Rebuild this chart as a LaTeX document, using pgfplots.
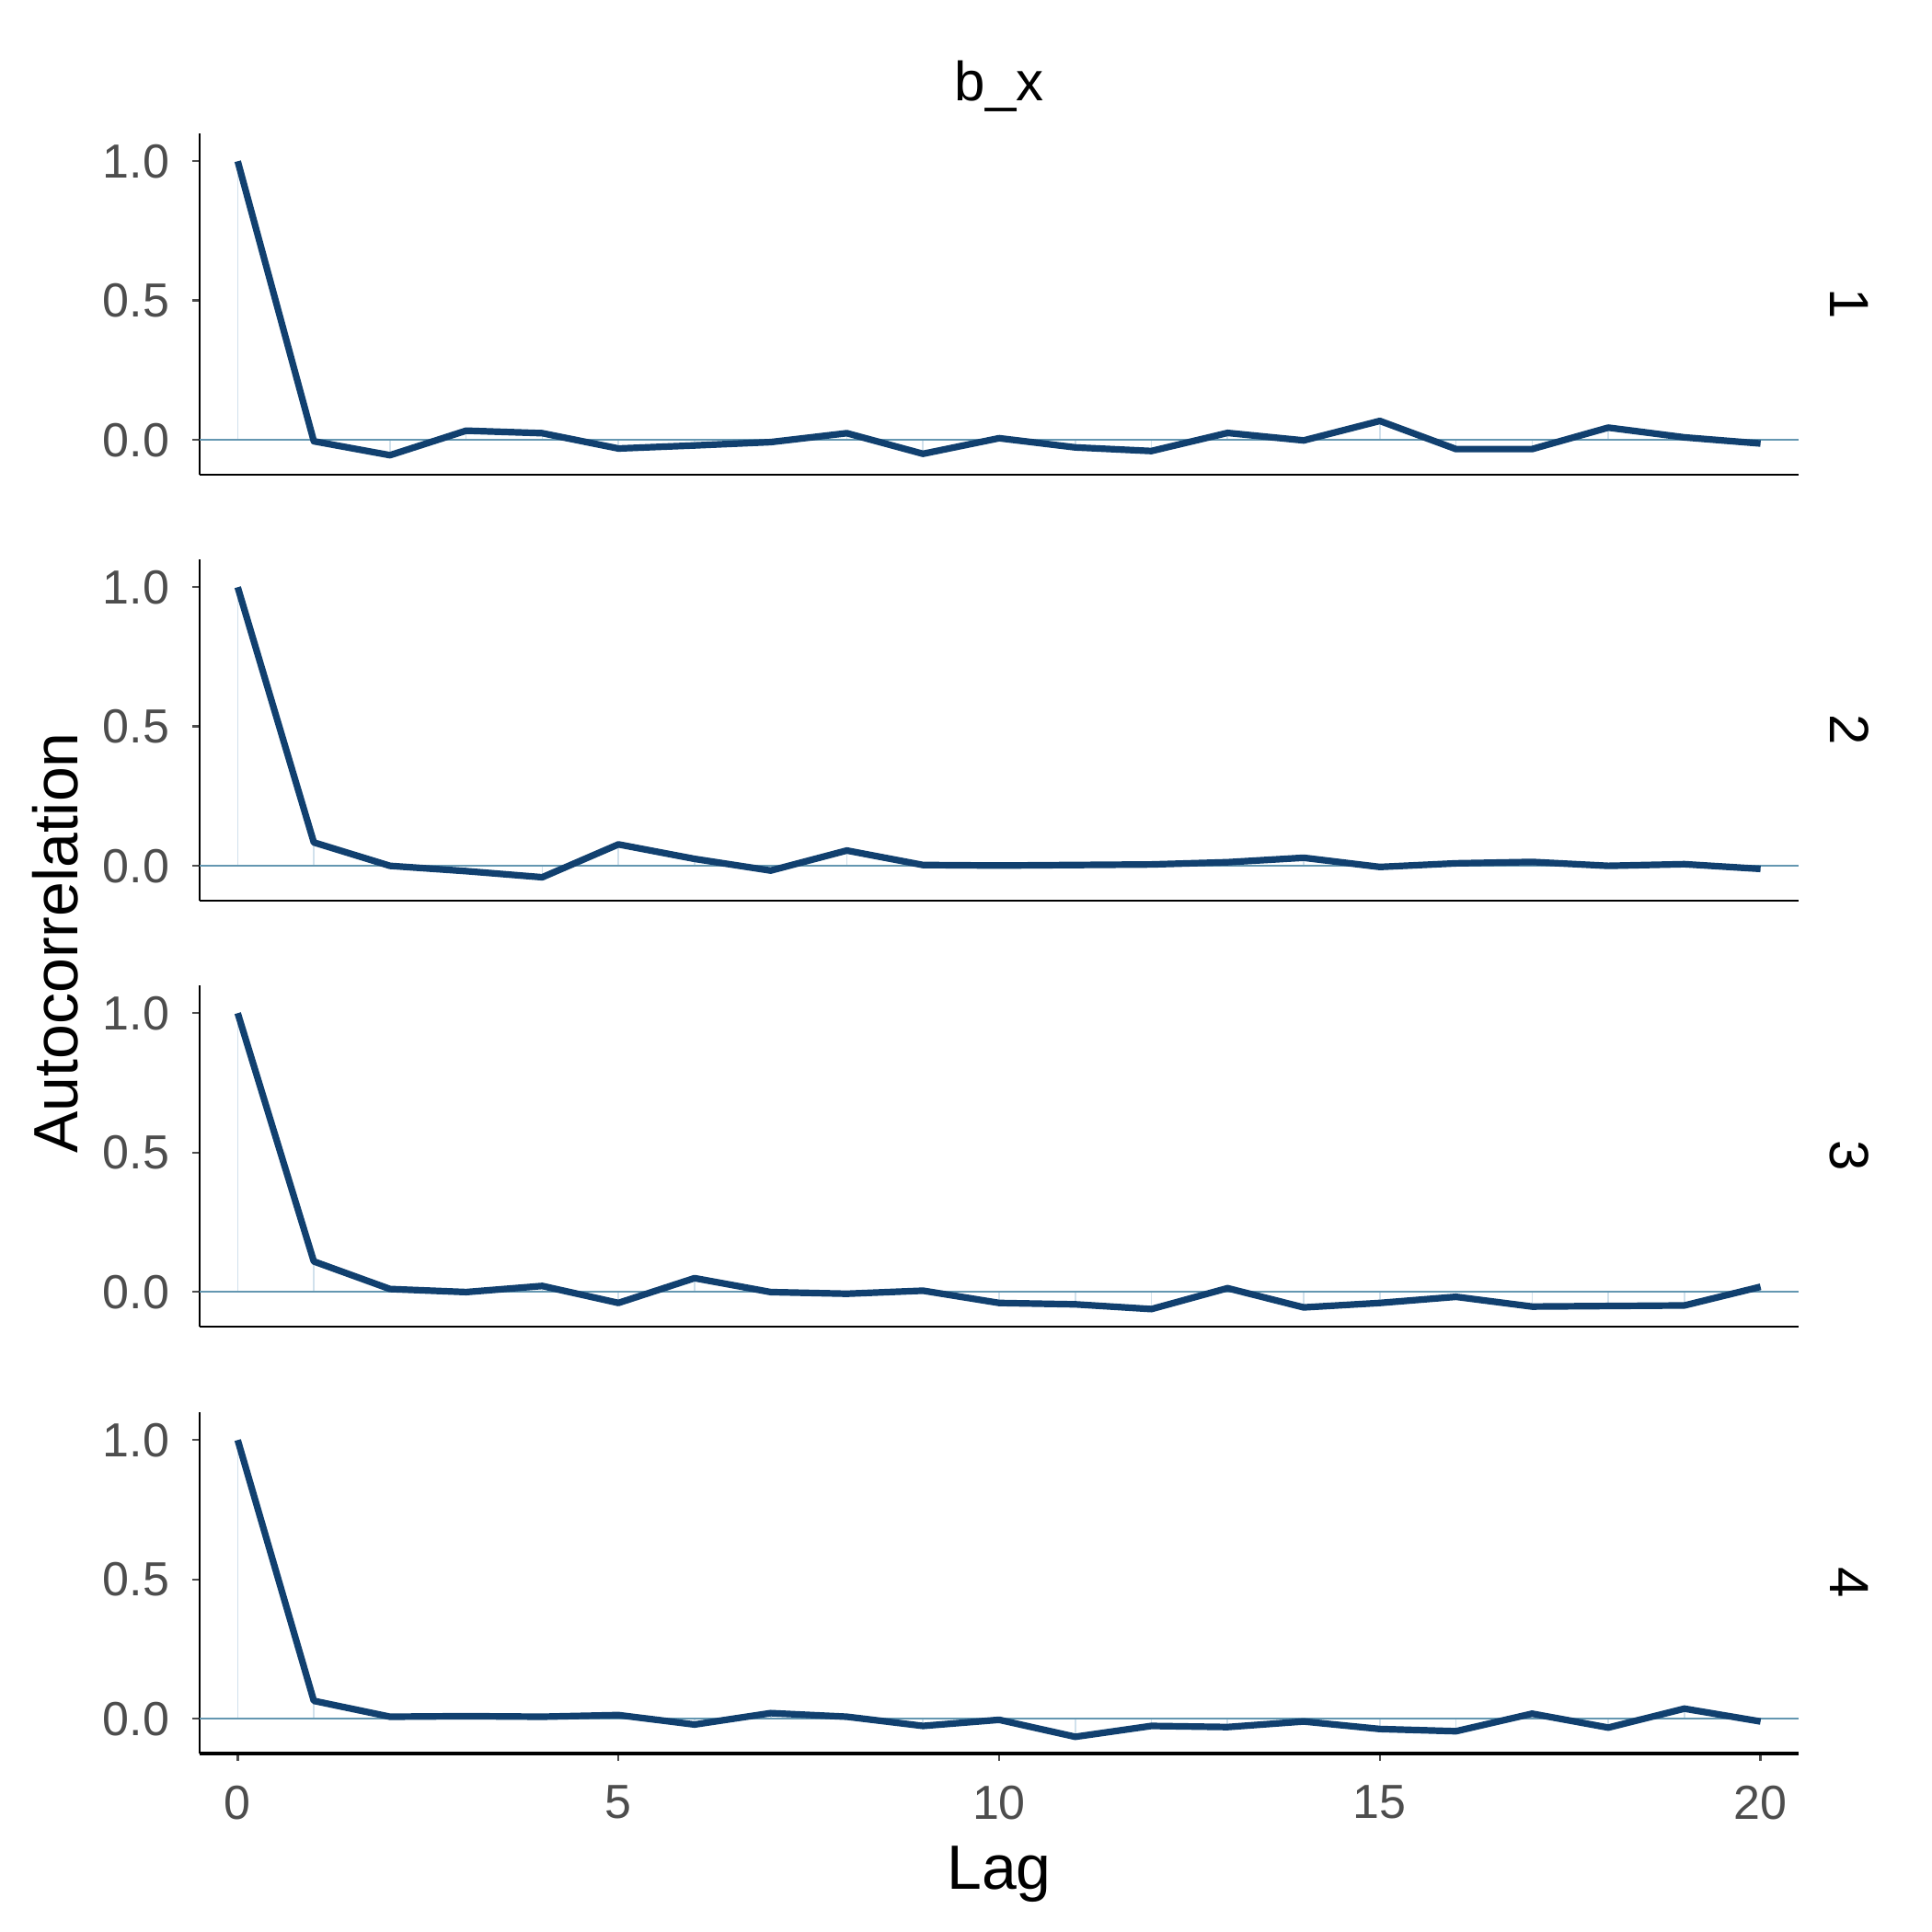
\documentclass[border=0pt]{standalone}
\usepackage{fontspec}
\setmainfont{Liberation Sans}
\usepackage{pgfplots}
\usepackage{pgfplotstable}
\pgfplotsset{compat=1.18}
\definecolor{acfdark}{RGB}{17,64,111}
\definecolor{acflight}{RGB}{209,225,236}
\definecolor{acfmid}{RGB}{100,151,177}
\definecolor{tickgray}{RGB}{77,77,77}

% autocorrelation by lag, one column per chain
\pgfplotstableread{
lag c1 c2 c3 c4
0 1.000 1.000 1.000 1.000
1 -0.005 0.084 0.109 0.064
2 -0.055 0.000 0.010 0.007
3 0.033 -0.019 -0.001 0.009
4 0.024 -0.041 0.021 0.007
5 -0.031 0.077 -0.040 0.013
6 -0.020 0.025 0.049 -0.021
7 -0.008 -0.017 -0.001 0.020
8 0.024 0.055 -0.007 0.007
9 -0.050 0.003 0.004 -0.026
10 0.006 0.001 -0.040 -0.004
11 -0.027 0.003 -0.045 -0.065
12 -0.040 0.005 -0.062 -0.026
13 0.025 0.013 0.013 -0.030
14 -0.002 0.029 -0.056 -0.010
15 0.068 -0.004 -0.040 -0.037
16 -0.033 0.009 -0.018 -0.045
17 -0.033 0.014 -0.053 0.018
18 0.044 0.000 -0.051 -0.032
19 0.009 0.006 -0.049 0.036
20 -0.013 -0.011 0.018 -0.010
}\acfdata

\pgfplotsset{acfpanel/.style={
  width=434.5pt, height=92.75pt, scale only axis,
  anchor=south west,
  xmin=-0.5, xmax=20.5, ymin=-0.125, ymax=1.1,
  axis x line*=bottom, axis y line*=left,
  axis line style={line width=0.6pt, -},
  ytick={0,0.5,1}, yticklabels={0.0,0.5,1.0},
  tick align=outside, major tick length=2pt,
  tick style={tickgray, line width=0.6pt},
  ticklabel style={font=\fontsize{13}{13}\selectfont, text=tickgray},
  yticklabel style={xshift=-2.7pt},
  xticklabel style={yshift=-3.2pt},
  /pgf/number format/assume math mode=true,
}}

\newcommand{\acfpanel}[3]{%
  \begin{axis}[acfpanel, at={(54.25pt,#2)}, #3]
    \addplot[ycomb, acflight, line width=0.4pt, no marks] table[x=lag, y=#1] {\acfdata};
    \addplot[acfmid, line width=0.6pt, no marks] coordinates {(-0.5,0) (20.5,0)};
    \addplot[acfdark, line width=1.8pt, no marks, line join=round] table[x=lag, y=#1] {\acfdata};
  \end{axis}}

\begin{document}
\begin{tikzpicture}
\useasboundingbox (0,0) rectangle (525pt,525pt);
\acfpanel{c1}{396pt}{xtick=\empty}
\acfpanel{c2}{280.25pt}{xtick=\empty}
\acfpanel{c3}{164.5pt}{xtick=\empty}
\acfpanel{c4}{48.5pt}{xtick={0,5,10,15,20}, x axis line style={line width=0.9pt}}
\foreach \k/\yy in {1/442.4, 2/326.6, 3/210.9, 4/94.9}
  \node[rotate=-90, font=\fontsize{15}{15}\selectfont] at (502.5pt,\yy pt) {\k};
\node[font=\fontsize{15}{15}\selectfont] at (271.5pt,501.5pt) {b\_x};
\node[font=\fontsize{17}{17}\selectfont] at (271.5pt,15.8pt) {Lag};
\node[rotate=90, font=\fontsize{17}{17}\selectfont] at (15pt,268.75pt) {Autocorrelation};
\end{tikzpicture}
\end{document}
